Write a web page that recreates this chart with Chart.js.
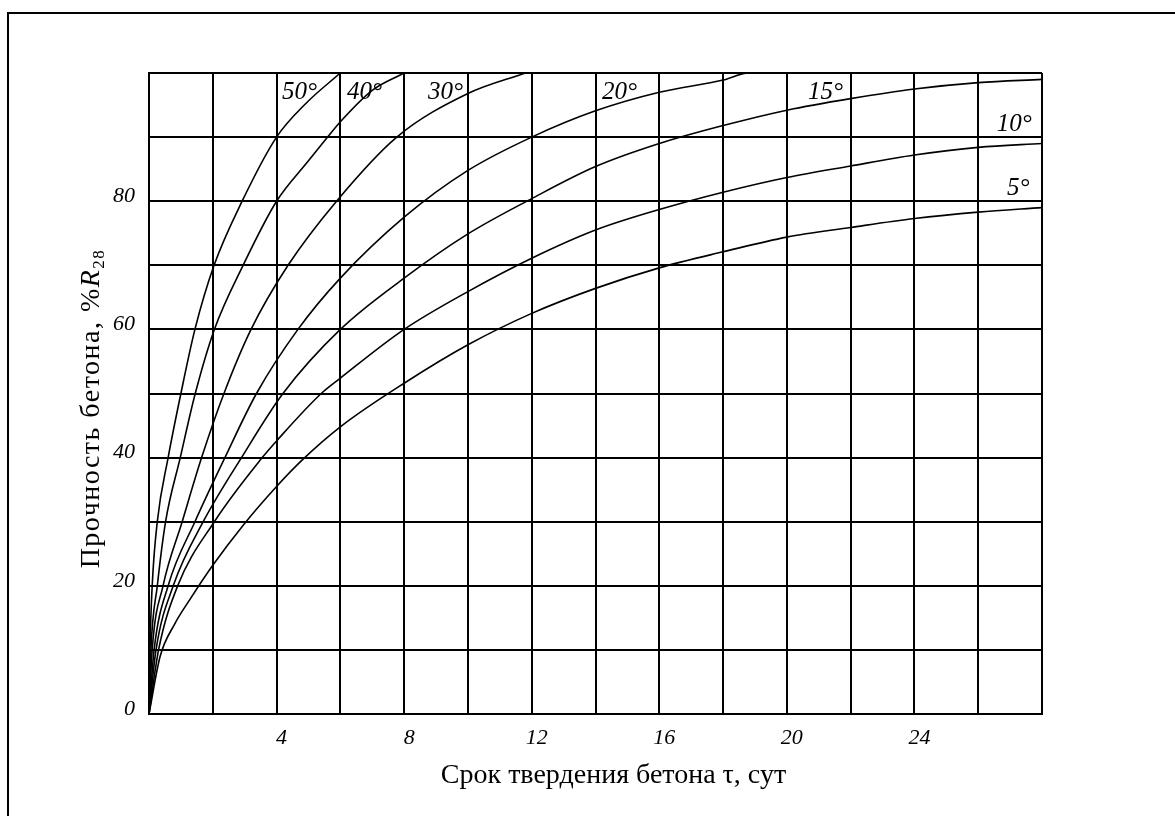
<!DOCTYPE html>
<html lang="ru">
<head>
<meta charset="UTF-8">
<title>Прочность бетона</title>
<script src="https://cdn.jsdelivr.net/npm/chart.js"></script>
<style>
  html, body { margin: 0; padding: 0; background: #fff; }
  #wrap { width: 1175px; height: 816px; position: relative; }
</style>
</head>
<body>
<div id="wrap"><canvas id="graf"></canvas></div>
<script>
// температура твердения, °C
const temperatury = [50, 40, 30, 20, 15, 10, 5];

// срок твердения (сут) и прочность (% R28)
const dni50  = [0, 0.03, 0.1, 0.26, 0.6, 1.0, 1.44, 2.04, 2.92, 4.0, 4.95, 6.0];
const proc50 = [0, 10, 20, 30, 40, 50, 60, 70, 80, 90, 95.4, 100];

const dni40  = [0, 0.06, 0.26, 0.52, 0.98, 1.45, 2.05, 2.95, 4.0, 5.0, 5.6, 6.0, 7.0, 8.0];
const proc40 = [0, 10, 20, 30, 40, 50, 60, 70, 80, 86.3, 90, 92.4, 97.3, 100];

const dni30  = [0, 0.1, 0.44, 1.04, 1.65, 2.35, 3.2, 4.36, 5.88, 7.77, 10.0, 11.8];
const proc30 = [0, 10, 20, 30, 40, 50, 60, 70, 80, 90, 96.8, 100];

const dni20  = [0, 0.16, 0.6, 1.44, 2.38, 3.37, 4.67, 6.0, 8.0, 10, 12, 14, 16, 18, 18.8, 20];
const proc20 = [0, 10, 20, 30, 40, 50, 60, 68, 77.5, 84.8, 90, 94.1, 97, 98.9, 100, 100];

const dni15  = [0, 0.22, 0.76, 1.7, 2.9, 4.2, 6.0, 8.0, 10, 12, 14, 16, 18, 20, 22, 24, 26, 28];
const proc15 = [0, 10, 20, 30, 40, 50, 60, 68, 74.9, 80.4, 85.4, 89, 91.8, 94.2, 96, 97.5, 98.5, 99];

const dni10  = [0, 0.3, 0.9, 2.05, 3.55, 4.0, 5.4, 6.0, 8.0, 10, 12, 14, 16, 18, 20, 22, 24, 26, 28];
const proc10 = [0, 10, 20, 30, 40, 42.6, 50, 52.4, 60, 65.9, 71.1, 75.5, 78.7, 81.4, 83.7, 85.5, 87.2, 88.4, 89];

const dni5   = [0, 0.35, 0.8, 1.3, 2.0, 2.96, 4.0, 4.84, 6.0, 8.0, 10, 12, 14, 16, 18, 20, 22, 24, 26, 28];
const proc5  = [0, 9, 14, 18, 23.2, 29.5, 35.5, 39.8, 44.8, 51.6, 57.6, 62.5, 66.4, 69.6, 72.1, 74.4, 75.9, 77.3, 78.3, 79];

// подписи на оси
const xPodpisi = [4, 8, 12, 16, 20, 24];
const yPodpisi = [0, 20, 40, 60, 80];

// где стоят подписи кривых (в единицах осей)
const metkaX = [4.17, 6.21, 8.75, 14.2, 20.66, 26.58, 26.9];
const metkaY = [95.9, 95.9, 95.9, 95.9, 96.0, 90.95, 81.0];

const vseDni  = [dni50, dni40, dni30, dni20, dni15, dni10, dni5];
const vseProc = [proc50, proc40, proc30, proc20, proc15, proc10, proc5];

const datasets = temperatury.map((t, i) => ({
    label: t + '°',
    data: vseDni[i].map((d, j) => ({ x: d, y: vseProc[i][j] })),
    showLine: true,
    borderColor: '#000',
    borderWidth: 1.6,
    pointRadius: 0,
    fill: false,
    cubicInterpolationMode: 'monotone'
}));

const shrift = '"Liberation Serif", "Times New Roman", serif';

// подписи кривых, названия осей, рамка листа
const oformlenie = {
    id: 'oformlenie',
    beforeDraw(chart) {
        const ctx = chart.ctx;
        ctx.save();
        ctx.fillStyle = '#fff';
        ctx.fillRect(0, 0, chart.width, chart.height);
        ctx.strokeStyle = '#000';
        ctx.lineWidth = 2;
        ctx.strokeRect(8, 13, chart.width + 20, chart.height + 20);
        ctx.restore();
    },
    afterDraw(chart) {
        const ctx = chart.ctx;
        const a = chart.chartArea;
        const sx = chart.scales.x, sy = chart.scales.y;
        ctx.save();
        ctx.fillStyle = '#000';

        ctx.font = 'italic 25px ' + shrift;
        ctx.textBaseline = 'alphabetic';
        ctx.textAlign = 'left';
        temperatury.forEach((t, i) => {
            ctx.fillText(t + '°', sx.getPixelForValue(metkaX[i]), sy.getPixelForValue(metkaY[i]));
        });

        // ось X
        ctx.font = '28px ' + shrift;
        ctx.textAlign = 'center';
        ctx.fillText('Срок твердения бетона τ, сут', (a.left + a.right) / 2 + 18, a.bottom + 69);

        // ось Y: "Прочность бетона, %R28"
        ctx.letterSpacing = '1.5px';
        const t1 = 'Прочность бетона, %';
        ctx.font = '28px ' + shrift;
        const w1 = ctx.measureText(t1).width;
        ctx.font = 'italic 28px ' + shrift;
        const w2 = ctx.measureText('R').width;
        ctx.font = '17px ' + shrift;
        const w3 = ctx.measureText('28').width;
        const w = w1 + w2 + w3;

        ctx.translate(a.left - 50, (a.top + a.bottom) / 2 + 15);
        ctx.rotate(-Math.PI / 2);
        ctx.textAlign = 'left';
        let x0 = -w / 2;
        ctx.font = '28px ' + shrift;
        ctx.fillText(t1, x0, 0);
        x0 += w1;
        ctx.font = 'italic 28px ' + shrift;
        ctx.fillText('R', x0, 0);
        x0 += w2;
        ctx.font = '17px ' + shrift;
        ctx.fillText('28', x0, 5);
        ctx.restore();
    }
};

new Chart(document.getElementById('graf'), {
    type: 'scatter',
    data: { datasets: datasets },
    plugins: [oformlenie],
    options: {
        responsive: true,
        maintainAspectRatio: false,
        animation: false,
        layout: { padding: { left: 0, top: 73, right: 133, bottom: 42 } },
        plugins: { legend: { display: false }, tooltip: { enabled: false } },
        scales: {
            x: {
                type: 'linear',
                min: 0,
                max: 28,
                afterFit(scale) { scale.height = 60; },
                ticks: {
                    stepSize: 2,
                    autoSkip: false,
                    maxRotation: 0,
                    padding: 11,
                    labelOffset: 5,
                    color: '#000',
                    font: { family: shrift, size: 22, style: 'italic' },
                    callback: v => xPodpisi.includes(v) ? String(v) : ''
                },
                grid: { color: '#000', lineWidth: 2, drawTicks: false },
                border: { display: true, color: '#000', width: 2 }
            },
            y: {
                type: 'linear',
                min: 0,
                max: 100,
                afterFit(scale) { scale.width = 149; },
                ticks: {
                    stepSize: 10,
                    autoSkip: false,
                    padding: 14,
                    labelOffset: -5,
                    color: '#000',
                    font: { family: shrift, size: 22, style: 'italic' },
                    callback: v => yPodpisi.includes(v) ? String(v) : ''
                },
                grid: { color: '#000', lineWidth: 2, drawTicks: false },
                border: { display: true, color: '#000', width: 2 }
            }
        }
    }
});
</script>
</body>
</html>
